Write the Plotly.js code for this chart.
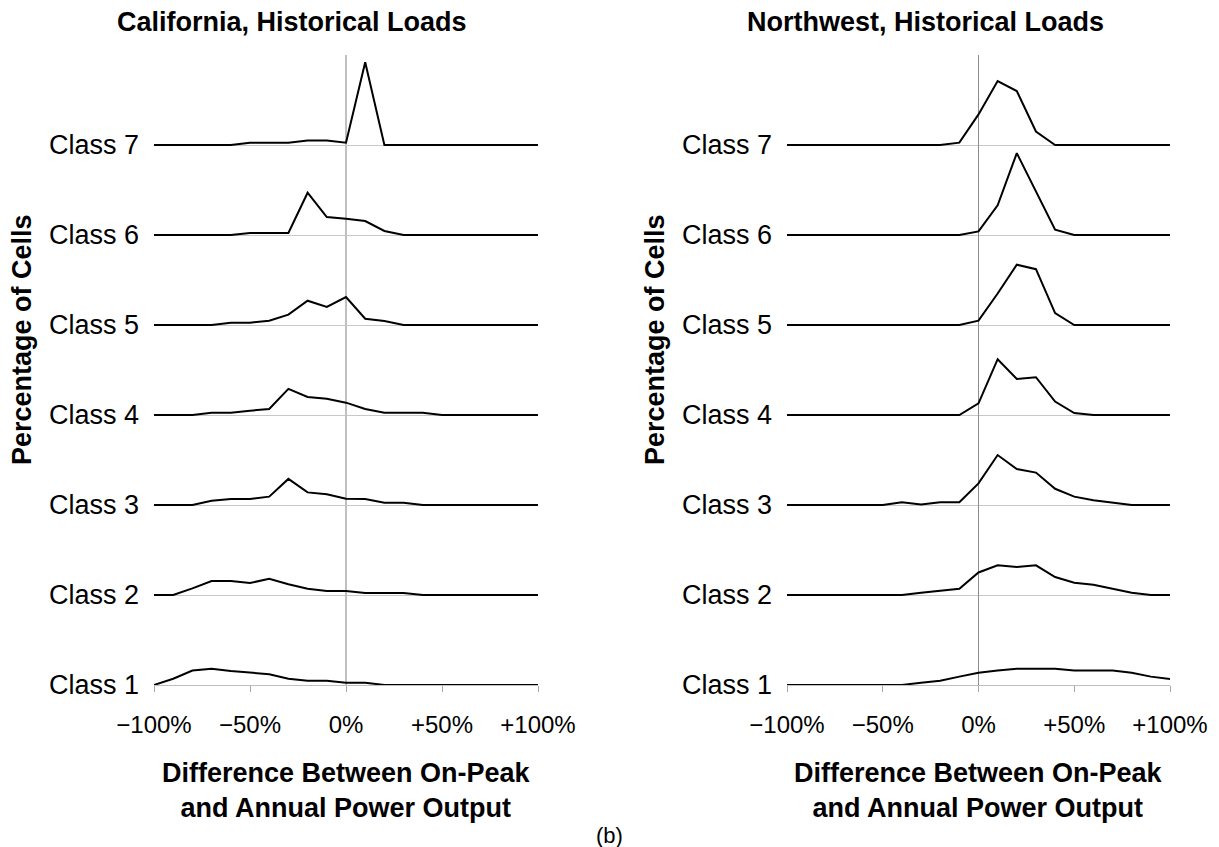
<!DOCTYPE html>
<html>
<head>
<meta charset="utf-8">
<script src="https://cdn.plot.ly/plotly-3.0.1.min.js"></script>
<style>html,body{margin:0;padding:0;background:#fff;}#chart{width:1219px;height:847px;}</style>
</head>
<body>
<div id="chart"></div>
<script>
// x positions: difference between on-peak and annual power output (%)
const xPct = [-100,-90,-80,-70,-60,-50,-40,-30,-20,-10,0,10,20,30,40,50,60,70,80,90,100];
const classLabels = ["Class 1","Class 2","Class 3","Class 4","Class 5","Class 6","Class 7"];
const xTickVals = [-100,-50,0,50,100];
const xTickText = ["\u2212100%","\u221250%","0%","+50%","+100%"];

// California, Historical Loads (height above each class baseline, in class-spacing units)
const calClass1 = [0,0.07,0.16,0.18,0.155,0.137,0.12,0.07,0.048,0.048,0.026,0.026,0,0,0,0,0,0,0,0,0];
const calClass2 = [0,0,0.074,0.155,0.155,0.133,0.18,0.12,0.07,0.044,0.044,0.022,0.022,0.022,0,0,0,0,0,0,0];
const calClass3 = [0,0,0,0.048,0.067,0.067,0.093,0.29,0.14,0.12,0.07,0.067,0.026,0.026,0,0,0,0,0,0,0];
const calClass4 = [0,0,0,0.025,0.025,0.048,0.067,0.29,0.20,0.18,0.137,0.067,0.025,0.025,0.025,0,0,0,0,0,0];
const calClass5 = [0,0,0,0,0.025,0.025,0.048,0.115,0.27,0.20,0.31,0.07,0.045,0,0,0,0,0,0,0,0];
const calClass6 = [0,0,0,0,0,0.022,0.022,0.022,0.47,0.20,0.18,0.155,0.045,0,0,0,0,0,0,0,0];
const calClass7 = [0,0,0,0,0,0.025,0.025,0.025,0.05,0.05,0.025,0.92,0,0,0,0,0,0,0,0,0];

// Northwest, Historical Loads
const nwClass1 = [0,0,0,0,0,0,0,0.026,0.048,0.093,0.137,0.16,0.18,0.18,0.18,0.16,0.16,0.16,0.137,0.093,0.067];
const nwClass2 = [0,0,0,0,0,0,0,0.026,0.048,0.07,0.25,0.33,0.31,0.33,0.20,0.137,0.115,0.07,0.026,0,0];
const nwClass3 = [0,0,0,0,0,0,0.03,0.005,0.03,0.03,0.24,0.555,0.40,0.36,0.18,0.093,0.052,0.026,0,0,0];
const nwClass4 = [0,0,0,0,0,0,0,0,0,0,0.13,0.62,0.40,0.42,0.15,0.022,0,0,0,0,0];
const nwClass5 = [0,0,0,0,0,0,0,0,0,0,0.048,0.35,0.67,0.62,0.133,0,0,0,0,0,0];
const nwClass6 = [0,0,0,0,0,0,0,0,0,0,0.04,0.33,0.91,0.49,0.06,0,0,0,0,0,0];
const nwClass7 = [0,0,0,0,0,0,0,0,0,0.026,0.34,0.71,0.60,0.15,0,0,0,0,0,0,0];

const calSeries = [calClass1,calClass2,calClass3,calClass4,calClass5,calClass6,calClass7];
const nwSeries = [nwClass1,nwClass2,nwClass3,nwClass4,nwClass5,nwClass6,nwClass7];

const FONT = "Liberation Sans, Arial, sans-serif";
const traces = [];
function addPanel(series, xa, ya, prefix) {
  series.forEach((vals, i) => {
    traces.push({
      type: "scatter", mode: "lines",
      x: xPct, y: vals.map(v => (i + 1) + v),
      xaxis: xa, yaxis: ya,
      name: prefix + " " + classLabels[i],
      line: {color: "#000000", width: 2},
      hoverinfo: "skip", showlegend: false
    });
  });
}
addPanel(calSeries, "x", "y", "California");
addPanel(nwSeries, "x2", "y2", "Northwest");

function xAxis(domain, zcol, zw) {
  return {
    domain: domain, range: [-100, 100], fixedrange: true,
    tickvals: xTickVals, ticktext: xTickText,
    ticks: "outside", ticklen: 6, tickcolor: "#a6a6a6", tickwidth: 1,
    ticklabelstandoff: 12,
    showgrid: false, zeroline: true, zerolinecolor: zcol, zerolinewidth: zw,
    showline: true, linecolor: "#bfbfbf", linewidth: 1,
    tickfont: {family: FONT, size: 24, color: "#000"},
    automargin: false
  };
}
function yAxis(anchor) {
  return {
    anchor: anchor, domain: [0, 1], range: [1, 8], fixedrange: true,
    tickvals: [1,2,3,4,5,6,7], ticktext: classLabels,
    ticks: "", showgrid: true, gridcolor: "#c8c8c8", gridwidth: 1,
    zeroline: false, showline: false,
    ticklabelstandoff: 14,
    tickfont: {family: FONT, size: 27, color: "#000"},
    automargin: false
  };
}

const titleFont = {family: FONT, size: 27, color: "#000", weight: "bold"};
const boldFont = {family: FONT, size: 27, color: "#000", weight: "bold"};

const layout = {
  width: 1219, height: 847,
  margin: {l: 0, r: 0, t: 55, b: 162},
  paper_bgcolor: "#ffffff", plot_bgcolor: "#ffffff",
  showlegend: false,
  xaxis: xAxis([154/1219, 538/1219], "#c0c0c0", 2),
  yaxis: yAxis("x"),
  xaxis2: Object.assign(xAxis([787/1219, 1170/1219], "#8c8c8c", 1), {anchor: "y2"}),
  yaxis2: yAxis("x2"),
  annotations: [
    {text: "<b>California, Historical Loads</b>", xref: "paper", yref: "paper", x: 292/1219, y: 1 + 33/630, xanchor: "center", yanchor: "middle", showarrow: false, font: titleFont},
    {text: "<b>Northwest, Historical Loads</b>", xref: "paper", yref: "paper", x: 925/1219, y: 1 + 33/630, xanchor: "center", yanchor: "middle", showarrow: false, font: titleFont},
    {text: "<b>Difference Between On-Peak<br>and Annual Power Output</b>", xref: "paper", yref: "paper", x: 346/1219, y: -(790-685)/630, xanchor: "center", yanchor: "middle", showarrow: false, font: boldFont},
    {text: "<b>Difference Between On-Peak<br>and Annual Power Output</b>", xref: "paper", yref: "paper", x: 978.5/1219, y: -(790-685)/630, xanchor: "center", yanchor: "middle", showarrow: false, font: boldFont},
    {text: "<b>Percentage of Cells</b>", textangle: -90, xref: "paper", yref: "paper", x: 22/1219, y: (685-340)/630, xanchor: "center", yanchor: "middle", showarrow: false, font: boldFont},
    {text: "<b>Percentage of Cells</b>", textangle: -90, xref: "paper", yref: "paper", x: 655/1219, y: (685-340)/630, xanchor: "center", yanchor: "middle", showarrow: false, font: boldFont},
    {text: "(b)", xref: "paper", yref: "paper", x: 609/1219, y: -(835-685)/630, xanchor: "center", yanchor: "middle", showarrow: false, font: {family: FONT, size: 22, color: "#000"}}
  ]
};

Plotly.newPlot("chart", traces, layout, {displayModeBar: false, staticPlot: true});
</script>
</body>
</html>
